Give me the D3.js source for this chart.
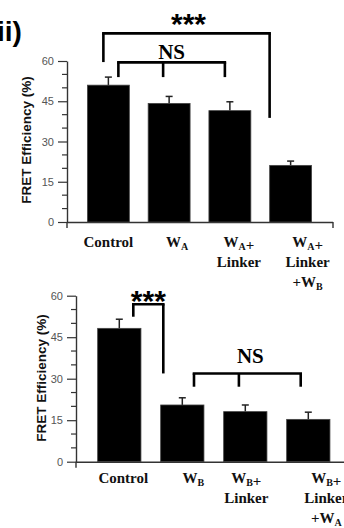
<!DOCTYPE html>
<html>
<head>
<meta charset="utf-8">
<script src="https://cdn.jsdelivr.net/npm/d3@7"></script>
<style>
  body { margin: 0; background: #fff; }
  svg { display: block; }
</style>
</head>
<body>
<div id="chart"></div>
<script>
// data (FRET efficiency, %)
const topCategories = ['Control', 'W_A', 'W_A+|Linker', 'W_A+|Linker|+W_B'];
const topValues = [51.0, 44.2, 41.5, 21.1];
const topErrors = [3.0, 2.6, 3.3, 1.6];

const bottomCategories = ['Control', 'W_B', 'W_B+|Linker', 'W_B+|Linker|+W_A'];
const bottomValues = [48.2, 20.5, 18.1, 15.3];
const bottomErrors = [3.3, 2.6, 2.4, 2.6];

const yTickValues = [0, 15, 30, 45, 60];
const yMinorValues = [5, 10, 20, 25, 35, 40, 50, 55];

const width = 344;
const height = 528;

const svg = d3.select('#chart')
  .append('svg')
  .attr('width', width)
  .attr('height', height);

// panel label (left edge is cropped in the original)
svg.append('text')
  .attr('x', -3)
  .attr('y', 41)
  .attr('font-family', 'Liberation Sans, Arial, sans-serif')
  .attr('font-weight', 'bold')
  .attr('font-size', 28)
  .text('ii)');

// draws one bar panel; layout numbers are per panel
function drawPanel(cfg) {
  const data = cfg.categories.map((c, i) => ({ cat: c, value: cfg.values[i], err: cfg.errors[i] }));

  const x = d3.scaleBand()
    .domain(cfg.categories)
    .range(cfg.xRange)
    .paddingInner(cfg.padInner)
    .paddingOuter(cfg.padInner / 2);

  const y = d3.scaleLinear()
    .domain([0, 60])
    .range([cfg.y0, cfg.y60]);

  const g = svg.append('g');

  // y axis with major + minor ticks
  const yAxis = g.append('g')
    .attr('transform', `translate(${cfg.axisX},0)`)
    .call(d3.axisLeft(y).tickValues(yTickValues).tickSize(9).tickPadding(4).tickSizeOuter(0));
  yAxis.select('.domain').attr('stroke', '#333').attr('stroke-width', 1.4);
  yAxis.selectAll('.tick line').attr('stroke', '#333').attr('stroke-width', 1.2);
  yAxis.selectAll('.tick text')
    .attr('fill', '#555')
    .attr('font-family', 'Liberation Sans, Arial, sans-serif')
    .attr('font-size', 11);

  g.append('g')
    .selectAll('line')
    .data(yMinorValues)
    .enter()
    .append('line')
    .attr('x1', cfg.axisX - 5)
    .attr('x2', cfg.axisX)
    .attr('y1', d => y(d))
    .attr('y2', d => y(d))
    .attr('stroke', '#333')
    .attr('stroke-width', 1.2);

  // x axis baseline with end ticks
  g.append('line')
    .attr('x1', cfg.axisX)
    .attr('x2', cfg.xAxisEnd)
    .attr('y1', y(0) + 0.5)
    .attr('y2', y(0) + 0.5)
    .attr('stroke', '#333')
    .attr('stroke-width', 1.4);
  [cfg.axisX, cfg.xAxisEnd].forEach(px => {
    g.append('line')
      .attr('x1', px).attr('x2', px)
      .attr('y1', y(0)).attr('y2', y(0) + 6)
      .attr('stroke', '#333')
      .attr('stroke-width', 1.4);
  });

  // error bars (upper only)
  const eb = g.append('g');
  eb.selectAll('line.stem')
    .data(data)
    .enter()
    .append('line')
    .attr('class', 'stem')
    .attr('x1', d => x(d.cat) + x.bandwidth() / 2)
    .attr('x2', d => x(d.cat) + x.bandwidth() / 2)
    .attr('y1', d => y(d.value))
    .attr('y2', d => y(d.value + d.err))
    .attr('stroke', '#222')
    .attr('stroke-width', 1.5);
  eb.selectAll('line.cap')
    .data(data)
    .enter()
    .append('line')
    .attr('class', 'cap')
    .attr('x1', d => x(d.cat) + x.bandwidth() / 2 - 3.5)
    .attr('x2', d => x(d.cat) + x.bandwidth() / 2 + 3.5)
    .attr('y1', d => y(d.value + d.err))
    .attr('y2', d => y(d.value + d.err))
    .attr('stroke', '#222')
    .attr('stroke-width', 1.5);

  // bars
  g.selectAll('rect.bar')
    .data(data)
    .enter()
    .append('rect')
    .attr('class', 'bar')
    .attr('x', d => x(d.cat))
    .attr('y', d => y(d.value))
    .attr('width', x.bandwidth())
    .attr('height', d => y(0) - y(d.value))
    .attr('fill', '#000')
    .attr('stroke', '#444')
    .attr('stroke-width', 0.8);

  // category labels, "_X" = subscript letter, "|" = line break
  cfg.categories.forEach((c, i) => {
    const cx = x(c) + x.bandwidth() / 2 + cfg.labelDx[i];
    c.split('|').forEach((line, li) => {
      const t = g.append('text')
        .attr('x', cx)
        .attr('y', cfg.labelY + li * 20)
        .attr('text-anchor', 'middle')
        .attr('font-family', 'Liberation Serif, Times New Roman, serif')
        .attr('font-weight', 'bold')
        .attr('font-size', 15)
        .attr('fill', '#111');
      const parts = line.split(/(_.)/).filter(p => p.length);
      parts.forEach(p => {
        if (p[0] === '_') {
          t.append('tspan').attr('font-size', 10).attr('dy', 3).text(p[1]);
          t.append('tspan').attr('dy', -3).text('');
        } else {
          t.append('tspan').text(p);
        }
      });
    });
  });

  // y axis title
  svg.append('text')
    .attr('transform', `translate(${cfg.titleX},${cfg.titleY}) rotate(-90)`)
    .attr('text-anchor', 'middle')
    .attr('font-family', 'Liberation Sans, Arial, sans-serif')
    .attr('font-weight', 'bold')
    .attr('font-size', 13.5)
    .attr('fill', '#111')
    .text('FRET Efficiency (%)');

  // significance brackets
  const cxOf = i => x(cfg.categories[i]) + x.bandwidth() / 2;
  cfg.brackets.forEach(b => {
    const xs = b.legs.map(l => cxOf(l.bar) + l.dx);
    const yTop = y(b.level);
    g.append('line')
      .attr('x1', xs[0]).attr('x2', xs[xs.length - 1])
      .attr('y1', yTop).attr('y2', yTop)
      .attr('stroke', '#000').attr('stroke-width', 2.6)
      .attr('stroke-linecap', 'square');
    b.legs.forEach((l, k) => {
      g.append('line')
        .attr('x1', xs[k]).attr('x2', xs[k])
        .attr('y1', yTop).attr('y2', y(l.to))
        .attr('stroke', '#000').attr('stroke-width', 2.6);
    });
    const mid = (xs[0] + xs[xs.length - 1]) / 2 + b.textDx;
    const isNS = b.label === 'NS';
    g.append('text')
      .attr('x', mid)
      .attr('y', yTop + b.textDy)
      .attr('text-anchor', 'middle')
      .attr('font-family', isNS ? 'Liberation Serif, Times New Roman, serif' : 'Liberation Sans, Arial, sans-serif')
      .attr('font-weight', 'bold')
      .attr('font-size', isNS ? 21 : 30)
      .text(b.label);
  });
}

drawPanel({
  categories: topCategories,
  values: topValues,
  errors: topErrors,
  axisX: 67,
  y0: 222,
  y60: 61,
  xRange: [78, 321],
  padInner: 0.31,
  xAxisEnd: 333,
  labelDx: [0, 8, 9, 17],
  labelY: 246.5,
  titleX: 31,
  titleY: 140,
  brackets: [
    { label: '***', level: 70.3, textDy: 0.5, textDx: 2,
      legs: [{ bar: 0, dx: -5, to: 59.6 }, { bar: 3, dx: -21, to: 38.8 }] },
    { label: 'NS', level: 59.5, textDy: -3, textDx: 0,
      legs: [{ bar: 0, dx: 10, to: 54 }, { bar: 1, dx: -6, to: 54 }, { bar: 2, dx: -5, to: 54 }] }
  ]
});

drawPanel({
  categories: bottomCategories,
  values: bottomValues,
  errors: bottomErrors,
  axisX: 76,
  y0: 461.7,
  y60: 295.7,
  xRange: [87.8, 339.8],
  padInner: 0.313,
  xAxisEnd: 350,
  labelDx: [4, 11, 1, 18],
  labelY: 483,
  titleX: 46,
  titleY: 378,
  brackets: [
    { label: '***', level: 56.9, textDy: 7, textDx: 0,
      legs: [{ bar: 0, dx: 14, to: 52.4 }, { bar: 1, dx: -19, to: 31.9 }] },
    { label: 'NS', level: 31.9, textDy: -10, textDx: 3,
      legs: [{ bar: 1, dx: 11.7, to: 27.1 }, { bar: 2, dx: -6.4, to: 27.1 }, { bar: 3, dx: -7.6, to: 27.1 }] }
  ]
});
</script>
</body>
</html>
